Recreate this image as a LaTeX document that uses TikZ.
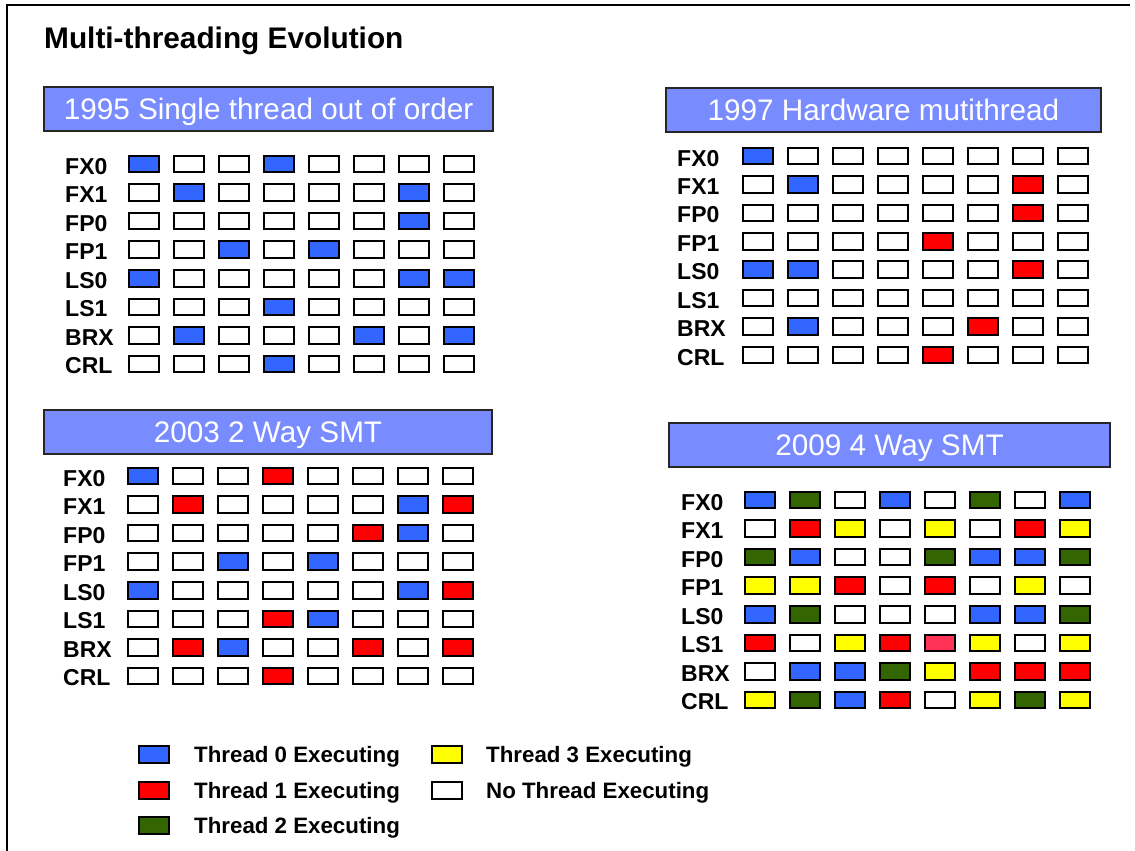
\documentclass[tikz,border=0pt]{standalone}
\usepackage{fontspec}
\setmainfont{Liberation Sans}

% thread colours
\definecolor{tB}{RGB}{51,102,255}
\definecolor{tR}{RGB}{255,0,0}
\definecolor{tG}{RGB}{51,102,0}
\definecolor{tY}{RGB}{255,255,0}
\definecolor{tW}{RGB}{255,255,255}
\definecolor{tP}{RGB}{255,51,85}
\definecolor{hdr}{RGB}{120,139,255}

\tikzset{
  cell/.style={draw=black, line width=2pt, minimum width=30pt, minimum height=16.5pt,
               inner sep=0pt, outer sep=0pt},
  keybox/.style={cell, minimum height=17.5pt},
  unitlbl/.style={font=\fontsize{23}{23}\selectfont\bfseries, anchor=base west, inner sep=0pt},
  hdrbox/.style={draw=black!85, line width=2pt, fill=hdr, text=white,
                 font=\fontsize{29.7}{30}\selectfont, text height=21pt, text depth=0pt,
                 inner sep=0pt, minimum height=44pt},
  legtxt/.style={font=\fontsize{22.3}{22}\selectfont\bfseries, anchor=base west, inner sep=0pt},
  titletxt/.style={font=\fontsize{29.8}{30}\selectfont\bfseries, anchor=base west, inner sep=0pt},
}

% #1 name, #2/#3 centre of first cell, #4 row pitch, #5 label x, #6 rows of cells
\newcommand\mtgrid[6]{%
  \foreach \rw [count=\r from 0] in {#6} {
    \foreach \c [count=\k from 0] in \rw {
      \node[cell, fill=t\c] (#1-\r-\k) at ({#2+45*\k},{#3+#4*\r}) {};
    }
  }
  \foreach \lbl [count=\r from 0] in {FX0,FX1,FP0,FP1,LS0,LS1,BRX,CRL} {
    \node[unitlbl] (#1-l\r) at (#5,{#3+#4*\r+10}) {\lbl};
  }
}

\begin{document}
\begin{tikzpicture}[x=1pt,y=-1pt]
\useasboundingbox[fill=white] (0,0) rectangle (1135,851);

% frame
\draw[line width=2pt] (7,851) -- (7,5) -- (1130,5);

\node[titletxt] (title) at (44,48.5) {Multi-threading Evolution};

% section headers
\node[hdrbox, minimum width=449pt] (h1) at (268.5,109) {1995 Single thread out of order};
\node[hdrbox, minimum width=435pt] (h2) at (883.5,110) {1997 Hardware mutithread};
\node[hdrbox, minimum width=448pt] (h3) at (268,432) {2003 2 Way SMT};
\node[hdrbox, minimum width=441pt] (h4) at (889.5,445) {2009 4 Way SMT};

% 1995 single thread
\mtgrid{g1}{144}{164}{28.57}{65}{
  {B,W,W,B,W,W,W,W},
  {W,B,W,W,W,W,B,W},
  {W,W,W,W,W,W,B,W},
  {W,W,B,W,B,W,W,W},
  {B,W,W,W,W,W,B,B},
  {W,W,W,B,W,W,W,W},
  {W,B,W,W,W,B,W,B},
  {W,W,W,B,W,W,W,W}}

% 1997 hardware multithread
\mtgrid{g2}{758}{156}{28.43}{677}{
  {B,W,W,W,W,W,W,W},
  {W,B,W,W,W,W,R,W},
  {W,W,W,W,W,W,R,W},
  {W,W,W,W,R,W,W,W},
  {B,B,W,W,W,W,R,W},
  {W,W,W,W,W,W,W,W},
  {W,B,W,W,W,R,W,W},
  {W,W,W,W,R,W,W,W}}

% 2003 two-way SMT
\mtgrid{g3}{143}{476}{28.57}{63}{
  {B,W,W,R,W,W,W,W},
  {W,R,W,W,W,W,B,R},
  {W,W,W,W,W,R,B,W},
  {W,W,B,W,B,W,W,W},
  {B,W,W,W,W,W,B,R},
  {W,W,W,R,B,W,W,W},
  {W,R,B,W,W,R,W,R},
  {W,W,W,R,W,W,W,W}}

% 2009 four-way SMT
\mtgrid{g4}{760}{500}{28.57}{681}{
  {B,G,W,B,W,G,W,B},
  {W,R,Y,W,Y,W,R,Y},
  {G,B,W,W,G,B,B,G},
  {Y,Y,R,W,R,W,Y,W},
  {B,G,W,W,W,B,B,G},
  {R,W,Y,R,P,Y,W,Y},
  {W,B,B,G,Y,R,R,R},
  {Y,G,B,R,W,Y,G,Y}}

% legend
\node[keybox, fill=tB] (k0) at (153.5,754.5) {};
\node[keybox, fill=tR] (k1) at (153.5,790.5) {};
\node[keybox, fill=tG] (k2) at (153.5,825.5) {};
\node[keybox, fill=tY] (k3) at (447,754.5) {};
\node[keybox, fill=tW] (kn) at (447,790.5) {};
\node[legtxt] (k0t) at (194,762.5) {Thread 0 Executing};
\node[legtxt] (k1t) at (194,798.5) {Thread 1 Executing};
\node[legtxt] (k2t) at (194,833.5) {Thread 2 Executing};
\node[legtxt] (k3t) at (486,762.5) {Thread 3 Executing};
\node[legtxt] (knt) at (486,798.5) {No Thread Executing};
\end{tikzpicture}
\end{document}
